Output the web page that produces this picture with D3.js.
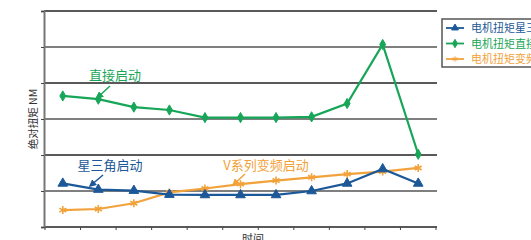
<!DOCTYPE html>
<html>
<head>
<meta charset="utf-8">
<script src="https://cdn.jsdelivr.net/npm/d3@7"></script>
<style>
  body { margin: 0; background: #fff; }
  svg { font-family: "Noto Sans CJK SC", "Noto Sans", sans-serif; }
</style>
</head>
<body>
<div id="chart"></div>
<script>
// dados
const times = [1, 2, 3, 4, 5, 6, 7, 8, 9, 10, 11];
const starDelta = [1.21, 1.04, 1.01, 0.9, 0.89, 0.89, 0.89, 1.0, 1.21, 1.61, 1.21];
const direct = [3.64, 3.55, 3.33, 3.25, 3.04, 3.04, 3.04, 3.06, 3.43, 5.07, 2.02];
const vfd = [0.47, 0.5, 0.66, 0.96, 1.07, 1.19, 1.29, 1.38, 1.47, 1.54, 1.64];
const yTicks = [0, 1, 2, 3, 4, 5, 6];

const seriesNames = ["电机扭矩星三角启动", "电机扭矩直接启动", "电机扭矩变频启动"];
const colors = ["#1c5898", "#17a658", "#f2a23a"];

const width = 531;
const height = 240;

const svg = d3
  .select("#chart")
  .append("svg")
  .attr("width", width)
  .attr("height", height);

const x = d3.scaleBand().domain(times).range([45, 436]);
const y = d3.scaleLinear().domain([0, 6]).range([227, 11]);

// linhas de grade
svg
  .selectAll(".grid")
  .data(yTicks)
  .join("line")
  .attr("class", "grid")
  .attr("x1", 44)
  .attr("x2", 437)
  .attr("y1", (d) => y(d))
  .attr("y2", (d) => y(d))
  .attr("stroke", (d, i) => (i % 2 === 0 ? "#222" : "#555"))
  .attr("stroke-width", 1.4);

// eixo y (sem rótulos)
svg
  .append("g")
  .attr("transform", "translate(44,0)")
  .call(d3.axisLeft(y).tickValues(yTicks).tickSize(3).tickFormat(""))
  .call((g) => g.select(".domain").attr("stroke", "#777").attr("stroke-width", 2))
  .call((g) => g.selectAll(".tick line").attr("stroke", "#444"));

// eixo x: ticks nas bordas das bandas
const xEdges = times.map((t) => x(t)).concat([x.range()[1]]);
svg
  .selectAll(".xtick")
  .data(xEdges)
  .join("line")
  .attr("class", "xtick")
  .attr("x1", (d) => d)
  .attr("x2", (d) => d)
  .attr("y1", 227)
  .attr("y2", 230)
  .attr("stroke", "#444")
  .attr("stroke-width", 1);

// títulos dos eixos
svg
  .append("text")
  .attr("transform", "translate(37,119) rotate(-90)")
  .attr("text-anchor", "middle")
  .attr("font-size", 10.5)
  .attr("fill", "#333")
  .text("绝对扭矩 NM");

svg
  .append("text")
  .attr("x", 253)
  .attr("y", 243)
  .attr("text-anchor", "middle")
  .attr("font-size", 11)
  .attr("fill", "#333")
  .text("时间");

const cx = (d, i) => x(times[i]) + x.bandwidth() / 2;

const line = d3
  .line()
  .x((d, i) => cx(d, i))
  .y((d) => y(d));

// símbolos
const symTri = d3.symbol().type(d3.symbolTriangle).size(40);
const symDia = d3.symbol().type(d3.symbolDiamond).size(30);
const symStar = d3.symbol().type(d3.symbolAsterisk).size(45);

const allSeries = [
  { values: starDelta, color: colors[0], sym: symTri, fillSym: true },
  { values: direct, color: colors[1], sym: symDia, fillSym: true },
  { values: vfd, color: colors[2], sym: symStar, fillSym: false },
];

// desenha de trás pra frente (laranja por baixo)
[allSeries[2], allSeries[1], allSeries[0]].forEach((s) => {
  svg
    .append("path")
    .datum(s.values)
    .attr("d", line)
    .attr("fill", "none")
    .attr("stroke", s.color)
    .attr("stroke-width", 2.2);

  svg
    .append("g")
    .selectAll("path")
    .data(s.values)
    .join("path")
    .attr("transform", (d, i) => `translate(${cx(d, i)},${y(d)})`)
    .attr("d", s.sym)
    .attr("fill", s.fillSym ? s.color : "none")
    .attr("stroke", s.color)
    .attr("stroke-width", s.fillSym ? 1 : 1.6);
});

// anotações
const notes = [
  { text: "直接启动", tx: 115, ty: 80, from: [110, 86], to: [97, 98], color: colors[1] },
  { text: "星三角启动", tx: 110, ty: 170, from: [103, 175], to: [90, 186], color: colors[0] },
  { text: "V系列变频启动", tx: 266, ty: 170, from: [245, 174], to: [233, 185], color: colors[2] },
];

const defs = svg.append("defs");
notes.forEach((n, i) => {
  defs
    .append("marker")
    .attr("id", "arr" + i)
    .attr("viewBox", "0 0 10 10")
    .attr("refX", 8)
    .attr("refY", 5)
    .attr("markerWidth", 5)
    .attr("markerHeight", 5)
    .attr("orient", "auto")
    .append("path")
    .attr("d", "M0,0L10,5L0,10z")
    .attr("fill", n.color);

  svg
    .append("text")
    .attr("x", n.tx)
    .attr("y", n.ty)
    .attr("text-anchor", "middle")
    .attr("font-size", 13)
    .attr("fill", n.color)
    .text(n.text);

  svg
    .append("line")
    .attr("x1", n.from[0])
    .attr("y1", n.from[1])
    .attr("x2", n.to[0])
    .attr("y2", n.to[1])
    .attr("stroke", n.color)
    .attr("stroke-width", 1.5)
    .attr("marker-end", `url(#arr${i})`);
});

// legenda
const legend = svg.append("g").attr("transform", "translate(442,19)");
legend
  .append("rect")
  .attr("width", 110)
  .attr("height", 48)
  .attr("fill", "#fff")
  .attr("stroke", "#555")
  .attr("stroke-width", 1.5);

allSeries.forEach((s, i) => {
  const ly = 9 + i * 15.5;
  legend
    .append("line")
    .attr("x1", 4)
    .attr("x2", 22)
    .attr("y1", ly)
    .attr("y2", ly)
    .attr("stroke", s.color)
    .attr("stroke-width", 1.8);
  legend
    .append("path")
    .attr("transform", `translate(13,${ly})`)
    .attr("d", s.sym.size(20)())
    .attr("fill", s.fillSym ? s.color : "none")
    .attr("stroke", s.color)
    .attr("stroke-width", 1);
  legend
    .append("text")
    .attr("x", 29)
    .attr("y", ly + 4)
    .attr("font-size", 11)
    .attr("fill", s.color)
    .text(seriesNames[i]);
});
</script>
</body>
</html>
